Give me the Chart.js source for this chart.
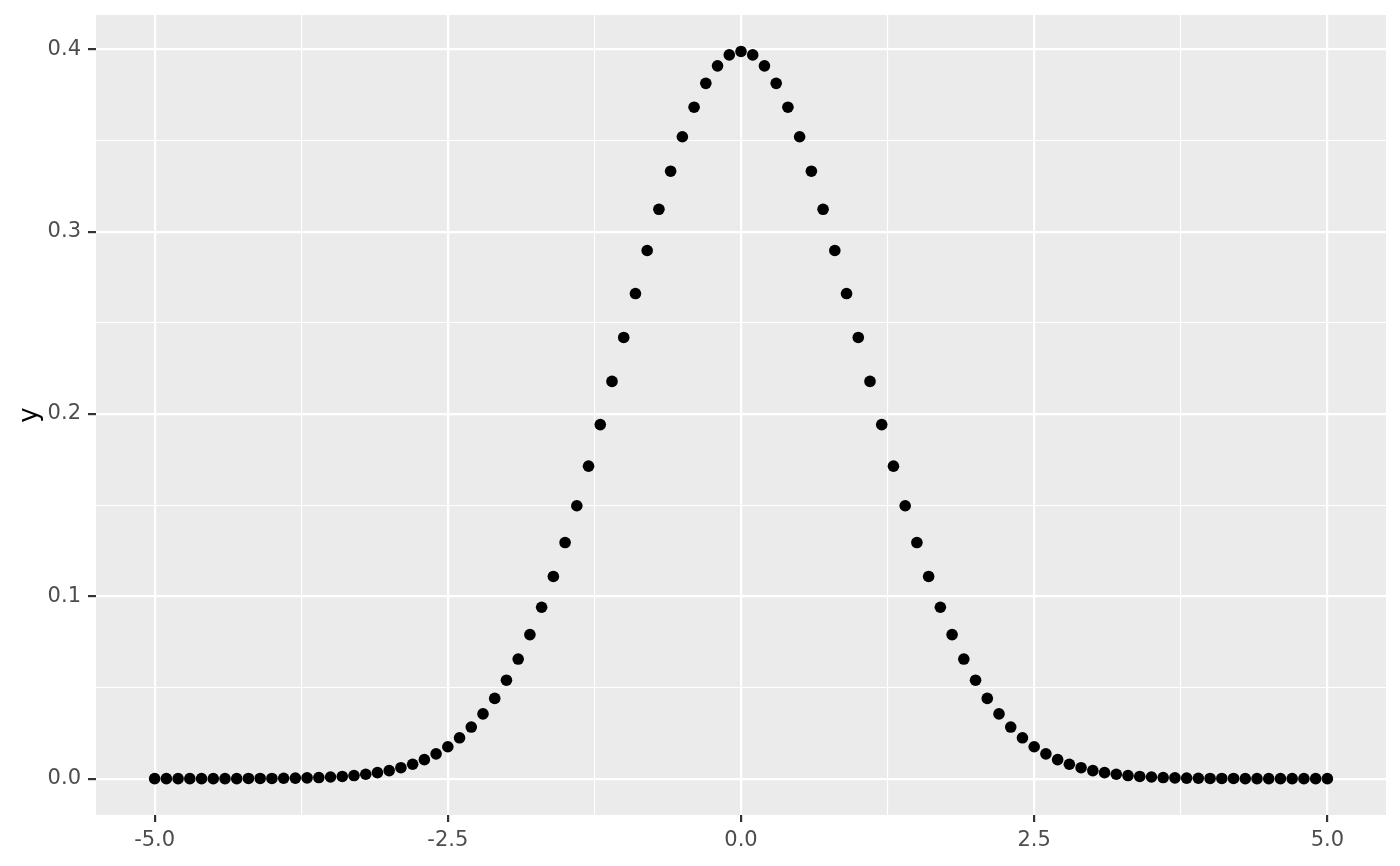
<!DOCTYPE html>
<html>
<head>
<meta charset="utf-8">
<script src="https://cdn.jsdelivr.net/npm/chart.js@4"></script>
<style>
html,body{margin:0;padding:0;background:#fff;}
#wrap{width:1400px;height:866px;}
</style>
</head>
<body>
<div id="wrap"><canvas id="c" width="1400" height="866"></canvas></div>
<script>
const xValues = [
 -5.0,-4.9,-4.8,-4.7,-4.6,-4.5,-4.4,-4.3,-4.2,-4.1,
 -4.0,-3.9,-3.8,-3.7,-3.6,-3.5,-3.4,-3.3,-3.2,-3.1,
 -3.0,-2.9,-2.8,-2.7,-2.6,-2.5,-2.4,-2.3,-2.2,-2.1,
 -2.0,-1.9,-1.8,-1.7,-1.6,-1.5,-1.4,-1.3,-1.2,-1.1,
 -1.0,-0.9,-0.8,-0.7,-0.6,-0.5,-0.4,-0.3,-0.2,-0.1,
 0.0,
 0.1,0.2,0.3,0.4,0.5,0.6,0.7,0.8,0.9,1.0,
 1.1,1.2,1.3,1.4,1.5,1.6,1.7,1.8,1.9,2.0,
 2.1,2.2,2.3,2.4,2.5,2.6,2.7,2.8,2.9,3.0,
 3.1,3.2,3.3,3.4,3.5,3.6,3.7,3.8,3.9,4.0,
 4.1,4.2,4.3,4.4,4.5,4.6,4.7,4.8,4.9,5.0
];
const yValues = [
 0.0000,0.0000,0.0000,0.0000,0.0000,0.0000,0.0000,0.0000,0.0001,0.0001,
 0.0001,0.0002,0.0003,0.0004,0.0006,0.0009,0.0012,0.0017,0.0024,0.0033,
 0.0044,0.0060,0.0079,0.0104,0.0136,0.0175,0.0224,0.0283,0.0355,0.0440,
 0.0540,0.0656,0.0790,0.0940,0.1109,0.1295,0.1497,0.1714,0.1942,0.2179,
 0.2420,0.2661,0.2897,0.3123,0.3332,0.3521,0.3683,0.3814,0.3910,0.3970,
 0.3989,
 0.3970,0.3910,0.3814,0.3683,0.3521,0.3332,0.3123,0.2897,0.2661,0.2420,
 0.2179,0.1942,0.1714,0.1497,0.1295,0.1109,0.0940,0.0790,0.0656,0.0540,
 0.0440,0.0355,0.0283,0.0224,0.0175,0.0136,0.0104,0.0079,0.0060,0.0044,
 0.0033,0.0024,0.0017,0.0012,0.0009,0.0006,0.0004,0.0003,0.0002,0.0001,
 0.0001,0.0001,0.0000,0.0000,0.0000,0.0000,0.0000,0.0000,0.0000,0.0000
];
const xMajorTicks = [-5, -2.5, 0, 2.5, 5];
const xMinorTicks = [-3.75, -1.25, 1.25, 3.75];
const yMajorTicks = [0, 0.1, 0.2, 0.3, 0.4];
const yMinorTicks = [0.05, 0.15, 0.25, 0.35];
const yTitle = 'y';

const points = xValues.map((x, i) => ({x: x, y: yValues[i]}));

function isMajor(list, v){ return list.some(t => Math.abs(t - v) < 1e-9); }

const panelBg = {
  id: 'panelBg',
  beforeDraw(chart){
    const a = chart.chartArea, c = chart.ctx;
    c.save();
    c.fillStyle = '#EBEBEB';
    c.fillRect(a.left, a.top, a.right - a.left, a.bottom - a.top);
    c.restore();
  }
};

new Chart(document.getElementById('c'), {
  type: 'scatter',
  data: { datasets: [{
    data: points,
    backgroundColor: '#000',
    borderWidth: 0,
    pointRadius: 5.8,
    pointHoverRadius: 5.8
  }]},
  plugins: [panelBg],
  options: {
    responsive: false,
    animation: false,
    devicePixelRatio: 1,
    layout: { padding: { top: 15, right: 14, left: 0, bottom: 0 } },
    plugins: { legend: { display: false }, tooltip: { enabled: false } },
    scales: {
      x: {
        type: 'linear', min: -5.5, max: 5.5,
        afterBuildTicks(s){ s.ticks = xMajorTicks.concat(xMinorTicks).sort((a,b)=>a-b).map(v=>({value:v})); },
        afterFit(s){ s.height = 51; s.paddingLeft = 0; s.paddingRight = 0; },
        border: { display: false },
        grid: {
          color: '#FFFFFF',
          lineWidth: ctx => isMajor(xMajorTicks, ctx.tick.value) ? 2.2 : 1.1,
          tickColor: ctx => isMajor(xMajorTicks, ctx.tick.value) ? '#333333' : 'rgba(0,0,0,0)',
          tickLength: 7,
          tickWidth: 2.2,
          drawOnChartArea: true
        },
        ticks: {
          autoSkip: false, maxRotation: 0,
          color: '#4D4D4D', padding: 6,
          font: { family: 'DejaVu Sans', size: 21 },
          callback: v => isMajor(xMajorTicks, v) ? v.toFixed(1) : ''
        }
      },
      y: {
        type: 'linear', min: -0.01995, max: 0.41889,
        afterBuildTicks(s){ s.ticks = yMajorTicks.concat(yMinorTicks).sort((a,b)=>a-b).map(v=>({value:v})); },
        afterFit(s){ s.width = 96; s.paddingTop = 0; s.paddingBottom = 0; },
        border: { display: false },
        title: { display: true, text: yTitle, color: '#000', font: { family: 'DejaVu Sans', size: 26 }, padding: { top: 15, bottom: 0 } },
        grid: {
          color: '#FFFFFF',
          lineWidth: ctx => isMajor(yMajorTicks, ctx.tick.value) ? 2.2 : 1.1,
          tickColor: ctx => isMajor(yMajorTicks, ctx.tick.value) ? '#333333' : 'rgba(0,0,0,0)',
          tickLength: 8,
          tickWidth: 2.2
        },
        ticks: {
          autoSkip: false,
          color: '#4D4D4D', padding: 7,
          font: { family: 'DejaVu Sans', size: 21 },
          callback: v => isMajor(yMajorTicks, v) ? v.toFixed(1) : ''
        }
      }
    }
  }
});
</script>
</body>
</html>
